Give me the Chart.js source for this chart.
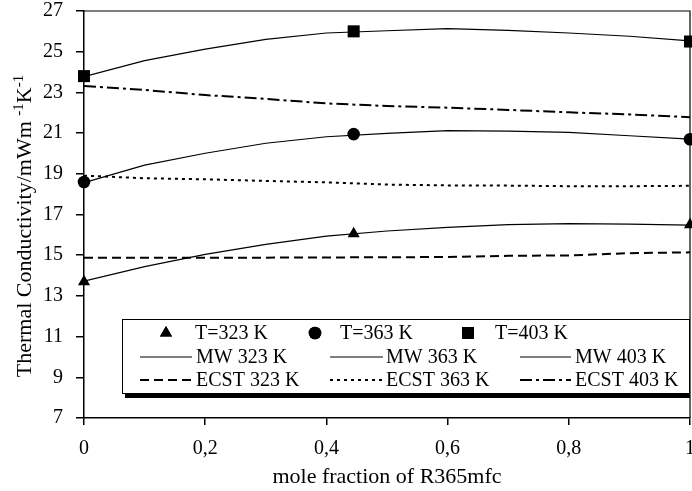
<!DOCTYPE html>
<html>
<head>
<meta charset="utf-8">
<script src="https://cdn.jsdelivr.net/npm/chart.js@4"></script>
<style>
  html, body { margin: 0; padding: 0; background: #fff; }
  canvas { display: block; }
</style>
</head>
<body>
<canvas id="myChart" width="692" height="491"></canvas>
<script>
// measured points
const xMeasured = [0, 0.445, 1];
const t323 = [13.7, 16.05, 16.5];
const t363 = [18.6, 20.95, 20.7];
const t403 = [23.8, 26.0, 25.5];

// model curves
const xModel = [0, 0.1, 0.2, 0.3, 0.4, 0.5, 0.6, 0.7, 0.8, 0.9, 1];
const mw323 = [13.73, 14.44, 15.04, 15.53, 15.94, 16.19, 16.37, 16.50, 16.55, 16.53, 16.48];
const mw363 = [18.57, 19.43, 20.01, 20.50, 20.82, 20.99, 21.12, 21.10, 21.04, 20.87, 20.70];
const mw403 = [23.77, 24.56, 25.13, 25.61, 25.92, 26.03, 26.13, 26.05, 25.92, 25.76, 25.53];
const ecst323 = [14.88, 14.88, 14.88, 14.88, 14.89, 14.90, 14.91, 14.97, 14.99, 15.10, 15.14];
const ecst363 = [18.91, 18.78, 18.73, 18.65, 18.58, 18.47, 18.43, 18.42, 18.39, 18.39, 18.41];
const ecst403 = [23.31, 23.12, 22.87, 22.68, 22.46, 22.33, 22.25, 22.14, 22.02, 21.92, 21.78];

const xTicks = [0, 0.2, 0.4, 0.6, 0.8, 1];
const yTitle = ['Thermal Conductivity/mWm ', '-1', 'K', '-1'];

const serif = 'Liberation Serif';

function pts(xs, ys) {
  return ys.map((y, i) => ({x: xs[i], y: y}));
}

function marker(label, ys, style, size) {
  return {
    label: label, data: pts(xMeasured, ys), showLine: false,
    pointStyle: style, pointRadius: size, backgroundColor: '#000',
    borderColor: '#000', borderWidth: 0, clip: false
  };
}

function curve(label, ys, dash, w) {
  return {
    label: label, data: pts(xModel, ys), showLine: true, pointRadius: 0,
    borderColor: '#000', borderWidth: w, borderDash: dash, tension: 0, fill: false
  };
}

const datasets = [
  marker('T=323 K', t323, 'triangle', 7),
  marker('T=363 K', t363, 'circle', 6.3),
  marker('T=403 K', t403, 'rect', 8.5),
  curve('MW 323 K', mw323, [], 1.2),
  curve('MW 363 K', mw363, [], 1.2),
  curve('MW 403 K', mw403, [], 1.2),
  curve('ECST 323 K', ecst323, [9, 5], 2),
  curve('ECST 363 K', ecst363, [3, 4], 2),
  curve('ECST 403 K', ecst403, [12, 4, 3, 4], 2)
];

const frame = {
  id: 'frame',
  afterLayout(chart) {
    // let the plot run up to the right edge, the last tick label gets cut like in the original
    const right = chart.width - 2;
    const x = chart.scales.x;
    chart.chartArea.right = right;
    chart.chartArea.width = right - chart.chartArea.left;
    x.right = right;
    x.width = right - x.left;
    x.configure();
    x._labelItems = null;
  },
  beforeDatasetsDraw(chart) {
    const {ctx, chartArea: a} = chart;
    ctx.save();
    ctx.strokeStyle = '#000';
    ctx.lineWidth = 1.2;
    ctx.beginPath();
    ctx.moveTo(a.left, a.top);
    ctx.lineTo(a.right, a.top);
    ctx.lineTo(a.right, a.bottom);
    ctx.stroke();
    ctx.restore();
  },
  afterDraw(chart) {
    const ctx = chart.ctx;
    ctx.save();
    // legend box with shadow
    ctx.fillStyle = '#000';
    ctx.fillRect(125, 393, 565, 5);
    ctx.fillStyle = '#fff';
    ctx.fillRect(122, 319, 568, 74);
    ctx.strokeStyle = '#000';
    ctx.lineWidth = 1;
    ctx.strokeRect(122.5, 319.5, 567, 74);

    const rows = [333, 357, 380];
    const symX = [166, 315, 468];
    const lineX = [[140, 192], [330, 383], [520, 571]];
    const textX = [[195, 340, 495], [196, 386, 575], [196, 386, 575]];
    ctx.font = '20px "' + serif + '"';
    ctx.textBaseline = 'middle';
    ctx.textAlign = 'left';
    for (let r = 0; r < 3; r++) {
      for (let c = 0; c < 3; c++) {
        const ds = chart.data.datasets[r * 3 + c];
        const y = rows[r];
        ctx.fillStyle = '#000';
        ctx.strokeStyle = '#000';
        if (r === 0) {
          Chart.helpers.drawPoint(ctx, {pointStyle: ds.pointStyle, radius: ds.pointRadius, borderWidth: 0}, symX[c], y);
          ctx.fill();
        } else {
          ctx.lineWidth = ds.borderWidth;
          ctx.setLineDash(ds.borderDash);
          ctx.beginPath();
          ctx.moveTo(lineX[c][0], y);
          ctx.lineTo(lineX[c][1], y);
          ctx.stroke();
          ctx.setLineDash([]);
        }
        ctx.fillText(ds.label, textX[r][c], y + 1);
      }
    }

    // y axis title with superscripts
    ctx.translate(24, 226);
    ctx.rotate(-Math.PI / 2);
    const big = '22px "' + serif + '"';
    const small = '15px "' + serif + '"';
    let total = 0;
    yTitle.forEach((t, i) => {
      ctx.font = i % 2 ? small : big;
      total += ctx.measureText(t).width;
    });
    let x = -total / 2;
    ctx.textBaseline = 'alphabetic';
    yTitle.forEach((t, i) => {
      ctx.font = i % 2 ? small : big;
      ctx.fillText(t, x, i % 2 ? -1 : 7);
      x += ctx.measureText(t).width;
    });
    ctx.restore();
  }
};

new Chart(document.getElementById('myChart').getContext('2d'), {
  type: 'scatter',
  data: { datasets: datasets },
  options: {
    responsive: false,
    animation: false,
    layout: { padding: { top: 11, right: 2, left: 0, bottom: 0 } },
    plugins: { legend: { display: false }, tooltip: { enabled: false } },
    scales: {
      x: {
        type: 'linear', min: 0, max: 1,
        afterBuildTicks: s => { s.ticks = xTicks.map(v => ({value: v})); },
        ticks: {
          color: '#000', padding: 12, maxRotation: 0, autoSkip: false,
          font: { family: serif, size: 20 },
          callback: v => (v === 0 || v === 1) ? String(v) : v.toFixed(1).replace('.', ',')
        },
        grid: { drawOnChartArea: false, drawTicks: true, tickLength: 7, color: '#000', lineWidth: 1.5 },
        border: { color: '#000', width: 1.5 },
        title: { display: true, text: 'mole fraction of R365mfc', color: '#000',
                 font: { family: serif, size: 22 }, padding: { top: 0, bottom: 1 } },
        afterFit: s => { s.height = 73; }
      },
      y: {
        min: 7, max: 27,
        ticks: { stepSize: 2, color: '#000', padding: 13, font: { family: serif, size: 20 } },
        grid: { drawOnChartArea: false, drawTicks: true, tickLength: 8, color: '#000', lineWidth: 1.5 },
        border: { color: '#000', width: 1.5 },
        afterFit: s => { s.width = 84; s.paddingTop = 0; s.paddingBottom = 0; }
      }
    }
  },
  plugins: [frame]
});
</script>
</body>
</html>
